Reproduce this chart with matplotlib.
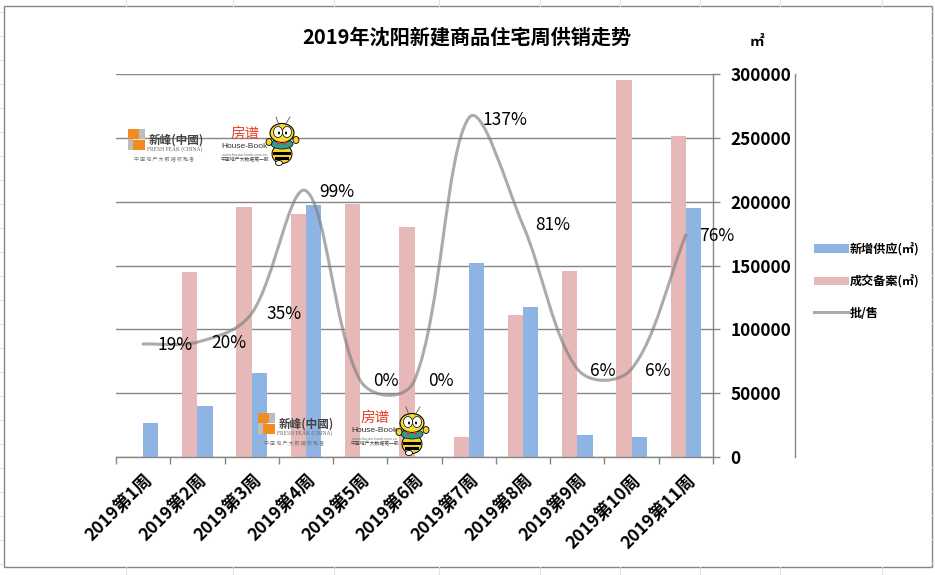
import numpy as np
import matplotlib.pyplot as plt
from matplotlib.path import Path
from matplotlib.patches import PathPatch, Rectangle, Ellipse, Polygon
from matplotlib.lines import Line2D

plt.rcParams['font.family'] = ['Noto Sans CJK SC', 'DejaVu Sans']

weeks = ['2019第1周', '2019第2周', '2019第3周', '2019第4周', '2019第5周', '2019第6周',
         '2019第7周', '2019第8周', '2019第9周', '2019第10周', '2019第11周']
supply = [26500, 40000, 65500, 197500, 0, 0, 152000, 117500, 17500, 15500, 195000]
sold = [0, 145000, 196000, 190000, 198500, 180500, 16000, 111000, 146000, 295500, 251500]
ratio = [0.19, 0.20, 0.35, 0.99, 0.0, 0.0, 1.37, 0.81, 0.06, 0.06, 0.76]
ratio_labels = ['19%', '20%', '35%', '99%', '0%', '0%', '137%', '81%', '6%', '6%', '76%']
yticks = [0, 50000, 100000, 150000, 200000, 250000, 300000]

# hand placed data labels, offset from the point in pixels
label_dx = [32, 31, 32, 31, 26, 26, 36, 30, 25, 26, 31]
label_dy = [1, 1, 1, 1, 1, 1, 2, 0, 2, 2, 1]

BLUE = '#8DB4E2'
PINK = '#E6B8B7'
GRAY = '#868686'
W, H = 935, 575


def smooth_path(xs, ys, sx, sy):
    # excel style smoothed line: handles weighted by segment length in pixels
    pts = np.column_stack([xs, ys])
    scale = np.array([sx, sy])
    n = len(pts)
    dist = [np.hypot(*((pts[i + 1] - pts[i]) * scale)) ** 0.7 for i in range(n - 1)]
    verts = [pts[0]]
    codes = [Path.MOVETO]
    for i in range(n - 1):
        if i == 0:
            c1 = pts[0] + (pts[1] - pts[0]) / 3
        else:
            c1 = pts[i] + (pts[i + 1] - pts[i - 1]) / 3 * dist[i] / (dist[i - 1] + dist[i])
        if i == n - 2:
            c2 = pts[i + 1] - (pts[i + 1] - pts[i]) / 3
        else:
            c2 = pts[i + 1] - (pts[i + 2] - pts[i]) / 3 * dist[i] / (dist[i] + dist[i + 1])
        verts += [c1, c2, pts[i + 1]]
        codes += [Path.CURVE4] * 3
    return Path(verts, codes)


def draw_logo(ov, dx, dy, bee_dy):
    # fresh peak block
    ov.add_patch(Rectangle((128 + dx, 129 + dy), 11, 10, fc='#F28C1E', lw=0))
    ov.add_patch(Rectangle((139 + dx, 129 + dy), 6, 10, fc='#BDBDBD', lw=0))
    ov.add_patch(Rectangle((128 + dx, 139 + dy), 5, 11, fc='#BDBDBD', lw=0))
    ov.add_patch(Rectangle((133 + dx, 140 + dy), 12, 10, fc='#F28C1E', lw=0))
    ov.text(176 + dx, 140 + dy, '新峰(中國)', fontsize=8.4, color='#444444', ha='center', va='center',
            fontweight='bold')
    ov.text(175 + dx, 149 + dy, 'FRESH PEAK (CHINA)', fontsize=4.0, color='#666666', ha='center',
            va='center', family='Liberation Serif')
    ov.text(164 + dx, 160 + dy, '中 国 地 产 大 数 据 领 跑 者', fontsize=3.6, color='#777777',
            ha='center', va='center')
    # house-book block
    ov.text(245 + dx, 134 + dy, '房谱', fontsize=10.5, color='#E8402A', ha='center', va='center')
    ov.text(245 + dx, 146 + dy, 'House-Book', fontsize=6, color='#333333', ha='center', va='center',
            family='Liberation Sans')
    ov.text(245 + dx, 154.5 + dy, 'www.house-book.com.cn', fontsize=3, color='#777777', ha='center',
            va='center', family='Liberation Sans')
    ov.text(245 + dx, 160 + dy, '中国地产大数据第一股', fontsize=3.5, color='#444444', ha='center',
            va='center')
    # bee
    bx, by = 282 + dx, 143 + dy + bee_dy
    ov.plot([bx - 3, bx - 6], [by - 18, by - 26], color='#555555', lw=0.6)
    ov.plot([bx + 3, bx + 8], [by - 18, by - 26], color='#555555', lw=0.6)
    ov.add_patch(Ellipse((bx, by + 11), 20, 19, fc='#F5D327', ec='black', lw=0.7))
    ov.add_patch(Rectangle((bx - 9, by + 9), 18, 2.5, fc='black', lw=0))
    ov.add_patch(Rectangle((bx - 7, by + 14), 14, 2.5, fc='black', lw=0))
    ov.add_patch(Ellipse((bx - 3, by + 20), 7, 5, fc='white', ec='black', lw=0.6))
    ov.add_patch(Ellipse((bx, by + 1), 22, 10, fc='#2E9C8F', ec='black', lw=0.5))
    ov.add_patch(Ellipse((bx - 13, by - 1), 6, 7, fc='#F5D327', ec='black', lw=0.6))
    ov.add_patch(Ellipse((bx + 14, by - 3), 6, 7, fc='#F5D327', ec='black', lw=0.6))
    ov.add_patch(Ellipse((bx, by - 10), 24, 19, fc='#F7DC2C', ec='black', lw=0.8))
    ov.add_patch(Ellipse((bx - 4, by - 11), 9, 11, fc='white', ec='black', lw=0.5))
    ov.add_patch(Ellipse((bx + 5, by - 11), 9, 11, fc='white', ec='black', lw=0.5))
    ov.add_patch(Ellipse((bx - 3, by - 10), 2, 3, fc='black', lw=0))
    ov.add_patch(Ellipse((bx + 4, by - 10), 2, 3, fc='black', lw=0))
    ov.add_patch(Polygon([[bx - 5, by - 2], [bx, by], [bx + 5, by - 2], [bx + 5, by + 2], [bx, by], [bx - 5, by + 2]],
                         fc='#D8352A', lw=0))


x = np.arange(len(weeks))
bar_w = 0.28

fig = plt.figure(figsize=(W / 100, H / 100), dpi=100, facecolor='white')
ax = fig.add_axes([116 / W, 1 - 457 / H, 597 / W, 383 / H])
ax.set_zorder(2)
ax.patch.set_alpha(0)

ax.bar(x - bar_w / 2, sold, bar_w, color=PINK, zorder=2)
ax.bar(x + bar_w / 2, supply, bar_w, color=BLUE, zorder=2)
ax.set_xlim(-0.5, 10.5)
ax.set_ylim(0, 300000)
ax.set_yticks(yticks)
ax.grid(axis='y', color=GRAY, lw=1.0, zorder=1)
ax.set_axisbelow(True)
for s in ['top', 'left']:
    ax.spines[s].set_visible(False)
for s in ['right', 'bottom']:
    ax.spines[s].set_color(GRAY)
    ax.spines[s].set_linewidth(1.0)
ax.set_xticks(x)
ax.set_xticklabels(weeks, rotation=45, ha='right', va='top', rotation_mode='anchor',
                   fontsize=12.6, fontweight='bold')
ax.set_xticks(np.arange(-0.5, 11), minor=True)
ax.tick_params(axis='x', which='major', length=0, pad=10)
ax.tick_params(axis='x', which='minor', length=5, width=1.0, color=GRAY)

ax2 = ax.twinx()
ax2.set_ylim(-0.4, 1.6)
ax2.set_yticks([])
ax2.patch.set_alpha(0)
for s in ['top', 'left', 'bottom']:
    ax2.spines[s].set_visible(False)
ax2.spines['right'].set_position(('outward', 82 * 72 / 100))
ax2.spines['right'].set_color(GRAY)
ax2.spines['right'].set_linewidth(1.0)
ax2.add_patch(PathPatch(smooth_path(x, ratio, 597 / 11, 383 / 2), fc='none', ec='#7F7F7F', lw=2.2,
                        alpha=0.65, capstyle='round', zorder=3))
for xi, r, lab, dx, dy in zip(x, ratio, ratio_labels, label_dx, label_dy):
    ax2.annotate(lab, (xi, r), xytext=(dx * 0.72, -dy * 0.72), textcoords='offset points',
                 ha='center', va='center', fontsize=12.5, color='black', zorder=4,
                 annotation_clip=False)

# twinx moves the ticks back to the left, so set the right side up after it
ax.yaxis.tick_right()
ax.tick_params(axis='y', length=5, width=1.0, color=GRAY, pad=7.5, labelsize=12.4)
for tick in ax.yaxis.get_major_ticks():
    tick.label2.set_fontweight('bold')

# overlay in pixel coordinates: sheet frame, title, unit and logos
ov = fig.add_axes([0, 0, 1, 1], zorder=5)
ov.set_xlim(0, W)
ov.set_ylim(H, 0)
ov.axis('off')
ov.patch.set_alpha(0)
for xg in [126, 233, 334, 439, 540, 620, 700, 780, 882]:
    ov.plot([xg, xg], [0, 6], color='#E2E2E2', lw=0.8)
    ov.plot([xg, xg], [567, 575], color='#E2E2E2', lw=0.8)
for yg in np.arange(12, 575, 24):
    ov.plot([0, 3], [yg, yg], color='#E2E2E2', lw=0.8)
    ov.plot([932, 935], [yg - 1, yg - 1], color='#E2E2E2', lw=0.8)
ov.add_patch(Rectangle((3.5, 6), 928, 561, fc='none', ec=GRAY, lw=1.0))
ov.text(467, 37, '2019年沈阳新建商品住宅周供销走势', fontsize=14.5, fontweight='bold',
        ha='center', va='center')
ov.text(757, 41, '㎡', fontsize=10.5, fontweight='bold', ha='center', va='center')
draw_logo(ov, 0, 0, 0)
draw_logo(ov, 130, 284, 6)

handles = [Rectangle((0, 0), 1, 1, fc=BLUE, lw=0), Rectangle((0, 0), 1, 1, fc=PINK, lw=0),
           Line2D([], [], color='#7F7F7F', alpha=0.65, lw=2.2)]
fig.legend(handles, ['新增供应(㎡)', '成交备案(㎡)', '批/售'], loc='center left',
           bbox_to_anchor=(803 / W, 1 - 281 / H), frameon=False, handlelength=2.9,
           handletextpad=0.1, labelspacing=1.55, prop={'size': 8.7, 'weight': 'bold'})

fig.savefig('out.png', dpi=100)
